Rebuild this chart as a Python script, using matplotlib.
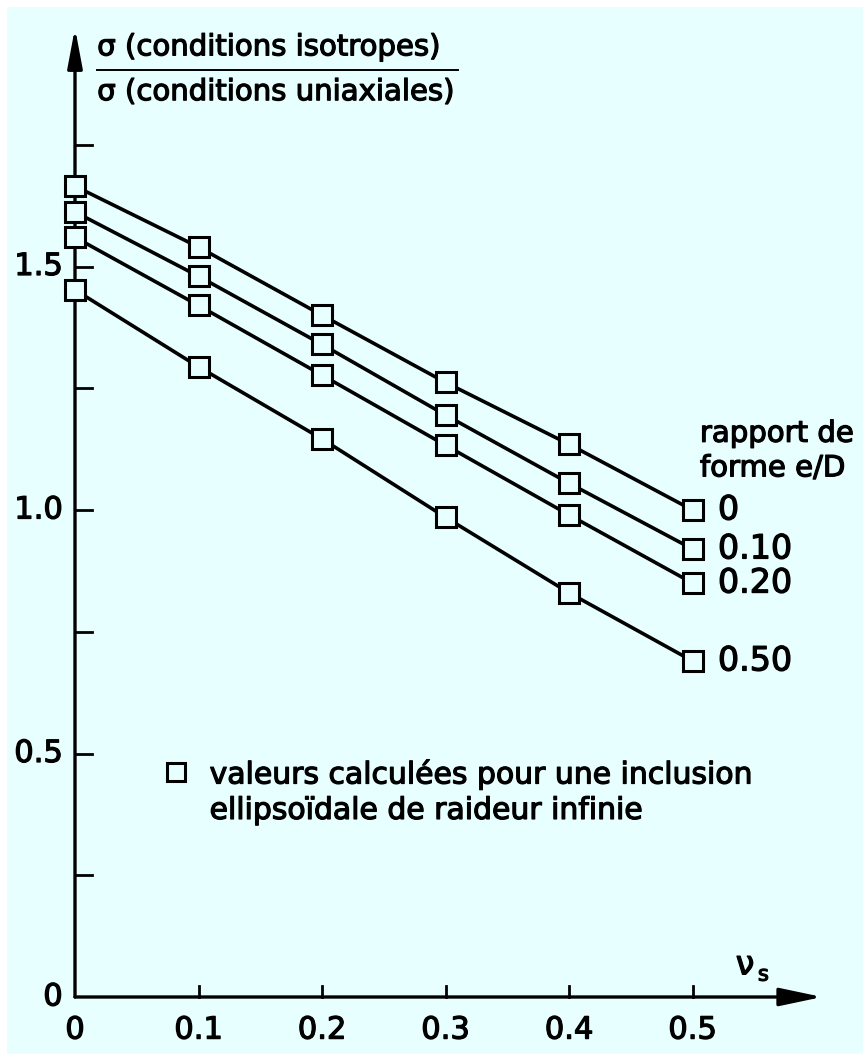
import matplotlib
matplotlib.use("Agg")
import matplotlib.pyplot as plt
from matplotlib.patches import Rectangle
import matplotlib.patheffects as pe

# ---- data ----
nu_s = [0.0, 0.1, 0.2, 0.3, 0.4, 0.5]
ratio_labels = ["0", "0.10", "0.20", "0.50"]
ratio_0 = [1.665, 1.540, 1.400, 1.262, 1.135, 1.000]
ratio_010 = [1.612, 1.480, 1.340, 1.195, 1.055, 0.920]
ratio_020 = [1.560, 1.420, 1.277, 1.133, 0.990, 0.850]
ratio_050 = [1.452, 1.294, 1.146, 0.985, 0.830, 0.690]
series = [ratio_0, ratio_010, ratio_020, ratio_050]
xtick_vals = [0, 0.1, 0.2, 0.3, 0.4, 0.5]
xtick_labels = ["0", "0.1", "0.2", "0.3", "0.4", "0.5"]
ytick_vals = [0, 0.5, 1.0, 1.5]
ytick_labels = ["0", "0.5", "1.0", "1.5"]
yminor_vals = [0.25, 0.75, 1.25, 1.75]

BG = "#E8FFFF"
W, H = 863, 1054
fig = plt.figure(figsize=(W / 100, H / 100), dpi=100)
fig.patch.set_facecolor("white")
fig.patches.append(Rectangle((7 / W, 0), 1.0, 1 - 7 / H, transform=fig.transFigure,
                             facecolor=BG, edgecolor="none", zorder=-10))

# axes: origin at px (75, 997); 1235 px per unit x, 487 px per unit y
x0, y0 = 75, 997
xmax, ymax = 0.62, 2.0
ax = fig.add_axes([x0 / W, (H - y0) / H, xmax * 1235 / W, ymax * 487 / H])
ax.set_xlim(0, xmax)
ax.set_ylim(0, ymax)
ax.patch.set_visible(False)
for s in ax.spines.values():
    s.set_visible(False)
ax.set_xticks([])
ax.set_yticks([])

thick = [pe.withStroke(linewidth=0.9, foreground="black")]
FONT = "DejaVu Sans"

# axes with arrows
ax.annotate("", xy=(0.605, 0), xytext=(0, 0),
            arrowprops=dict(arrowstyle="-|>,head_length=2.6,head_width=0.55", lw=2.4, color="black",
                            shrinkA=0, shrinkB=0), annotation_clip=False)
ax.annotate("", xy=(0, 1.99), xytext=(0, 0),
            arrowprops=dict(arrowstyle="-|>,head_length=2.4,head_width=0.45", lw=2.4, color="black",
                            shrinkA=0, shrinkB=0), annotation_clip=False)

# ticks
for xv, lab in zip(xtick_vals, xtick_labels):
    if xv > 0:
        ax.plot([xv, xv], [0, 0.022], color="black", lw=2.0, clip_on=False)
    ax.text(xv, -0.068, lab, ha="center", va="center", fontsize=22, family=FONT,
            path_effects=thick)
for yv, lab in zip(ytick_vals, ytick_labels):
    if yv > 0:
        ax.plot([0, 0.014], [yv, yv], color="black", lw=2.0, clip_on=False)
    ax.text(-0.010, yv, lab, ha="right", va="center", fontsize=22, family=FONT,
            path_effects=thick)
for yv in yminor_vals:
    ax.plot([0, 0.014], [yv, yv], color="black", lw=2.0, clip_on=False)

# series
for vals in series:
    ax.plot(nu_s, vals, color="black", lw=2.6, marker="s", markersize=14,
            markerfacecolor=BG, markeredgecolor="black", markeredgewidth=2.2,
            clip_on=False, zorder=3)

# right-hand labels
for vals, lab in zip(series, ratio_labels):
    ax.text(0.5206, vals[-1], lab, ha="left", va="center", fontsize=24, family=FONT,
            path_effects=thick)
ax.text(0.506, 1.121, "rapport de\nforme e/D", ha="left", va="center", fontsize=21,
        family=FONT, linespacing=1.3, path_effects=thick)

# axis labels
ax.text(0.535, 0.066, "ν", ha="left", va="center", fontsize=24, family=FONT,
        path_effects=thick)
ax.text(0.553, 0.046, "s", ha="left", va="center", fontsize=15, family=FONT,
        path_effects=thick)
ax.text(0.018, 1.950, "σ (conditions isotropes)", ha="left", va="center", fontsize=21,
        family=FONT, path_effects=thick)
ax.plot([0.018, 0.310], [1.904, 1.904], color="black", lw=1.4, clip_on=False)
ax.text(0.018, 1.858, "σ (conditions uniaxiales)", ha="left", va="center", fontsize=21,
        family=FONT, path_effects=thick)

# note
ax.plot([0.082], [0.462], marker="s", markersize=13, markerfacecolor=BG,
        markeredgecolor="black", markeredgewidth=2.2, clip_on=False)
ax.text(0.109, 0.421, "valeurs calculées pour une inclusion\nellipsoïdale de raideur infinie",
        ha="left", va="center", fontsize=21.5, family=FONT, linespacing=1.28,
        path_effects=thick, transform=ax.transData)

fig.savefig("out.png", dpi=100, facecolor=fig.get_facecolor())
